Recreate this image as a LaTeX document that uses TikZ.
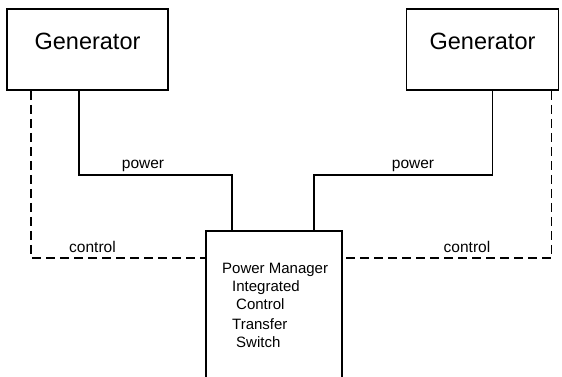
\documentclass[tikz,border=0pt]{standalone}
\usepackage{fontspec}
\setmainfont{Liberation Sans}
\usepackage{tikz}

\begin{document}
\begin{tikzpicture}[x=1pt, y=-1pt]
    \tikzstyle{genbox} = [rectangle, draw=black, line width=1.9pt, minimum height=81pt, inner sep=0pt, text height=0pt, text depth=0pt, font=\fontsize{23.5}{27}\selectfont]
    \tikzstyle{link} = [line width=1.9pt]
    \tikzstyle{ctrl} = [line width=1.9pt, dash pattern=on 9pt off 5pt]
    \tikzstyle{lbl} = [anchor=base, inner sep=0pt, font=\fontsize{15.5}{18}\selectfont]
    \tikzstyle{pmtext} = [anchor=base west, inner sep=0pt, font=\fontsize{15}{18}\selectfont]
    \useasboundingbox (0,0) rectangle (562,377);

    \node[genbox, minimum width=161pt] (genL) at (87.5, 49.5) {Generator};
    \node[genbox, minimum width=152pt] (genR) at (482.5, 49.5) {Generator};
    \node[minimum width=136pt, minimum height=146pt, inner sep=0pt, outer sep=0pt, anchor=north west] (pm) at (206, 231) {};
    \draw[link] (pm.south west) -- (pm.north west) -- (pm.north east) -- (pm.south east);

    \node[pmtext] (pm1) at (222, 273) {Power Manager};
    \node[pmtext] (pm2) at (232, 291) {Integrated};
    \node[pmtext] (pm3) at (236, 309) {Control};
    \node[pmtext] (pm4) at (232, 329) {Transfer};
    \node[pmtext] (pm5) at (236, 347) {Switch};

    \draw[link] ([xshift=73pt]genL.south west) -- ++(0,84) -| ([xshift=26pt]pm.north west);
    \draw[link] ([xshift=-67pt]genR.south east) -- ++(0,84) -| ([xshift=-28pt]pm.north east);
    \draw[ctrl] ([xshift=25pt]genL.south west) |- ([yshift=-27pt]pm.north west);
    \draw[ctrl] ([xshift=-8pt]genR.south east) |- ([yshift=-27pt]pm.north east);

    \node[lbl] (powL) at (143, 168) {power};
    \node[lbl] (powR) at (413, 168) {power};
    \node[lbl] (ctrlL) at (92.5, 252) {control};
    \node[lbl] (ctrlR) at (467, 252) {control};
\end{tikzpicture}
\end{document}
